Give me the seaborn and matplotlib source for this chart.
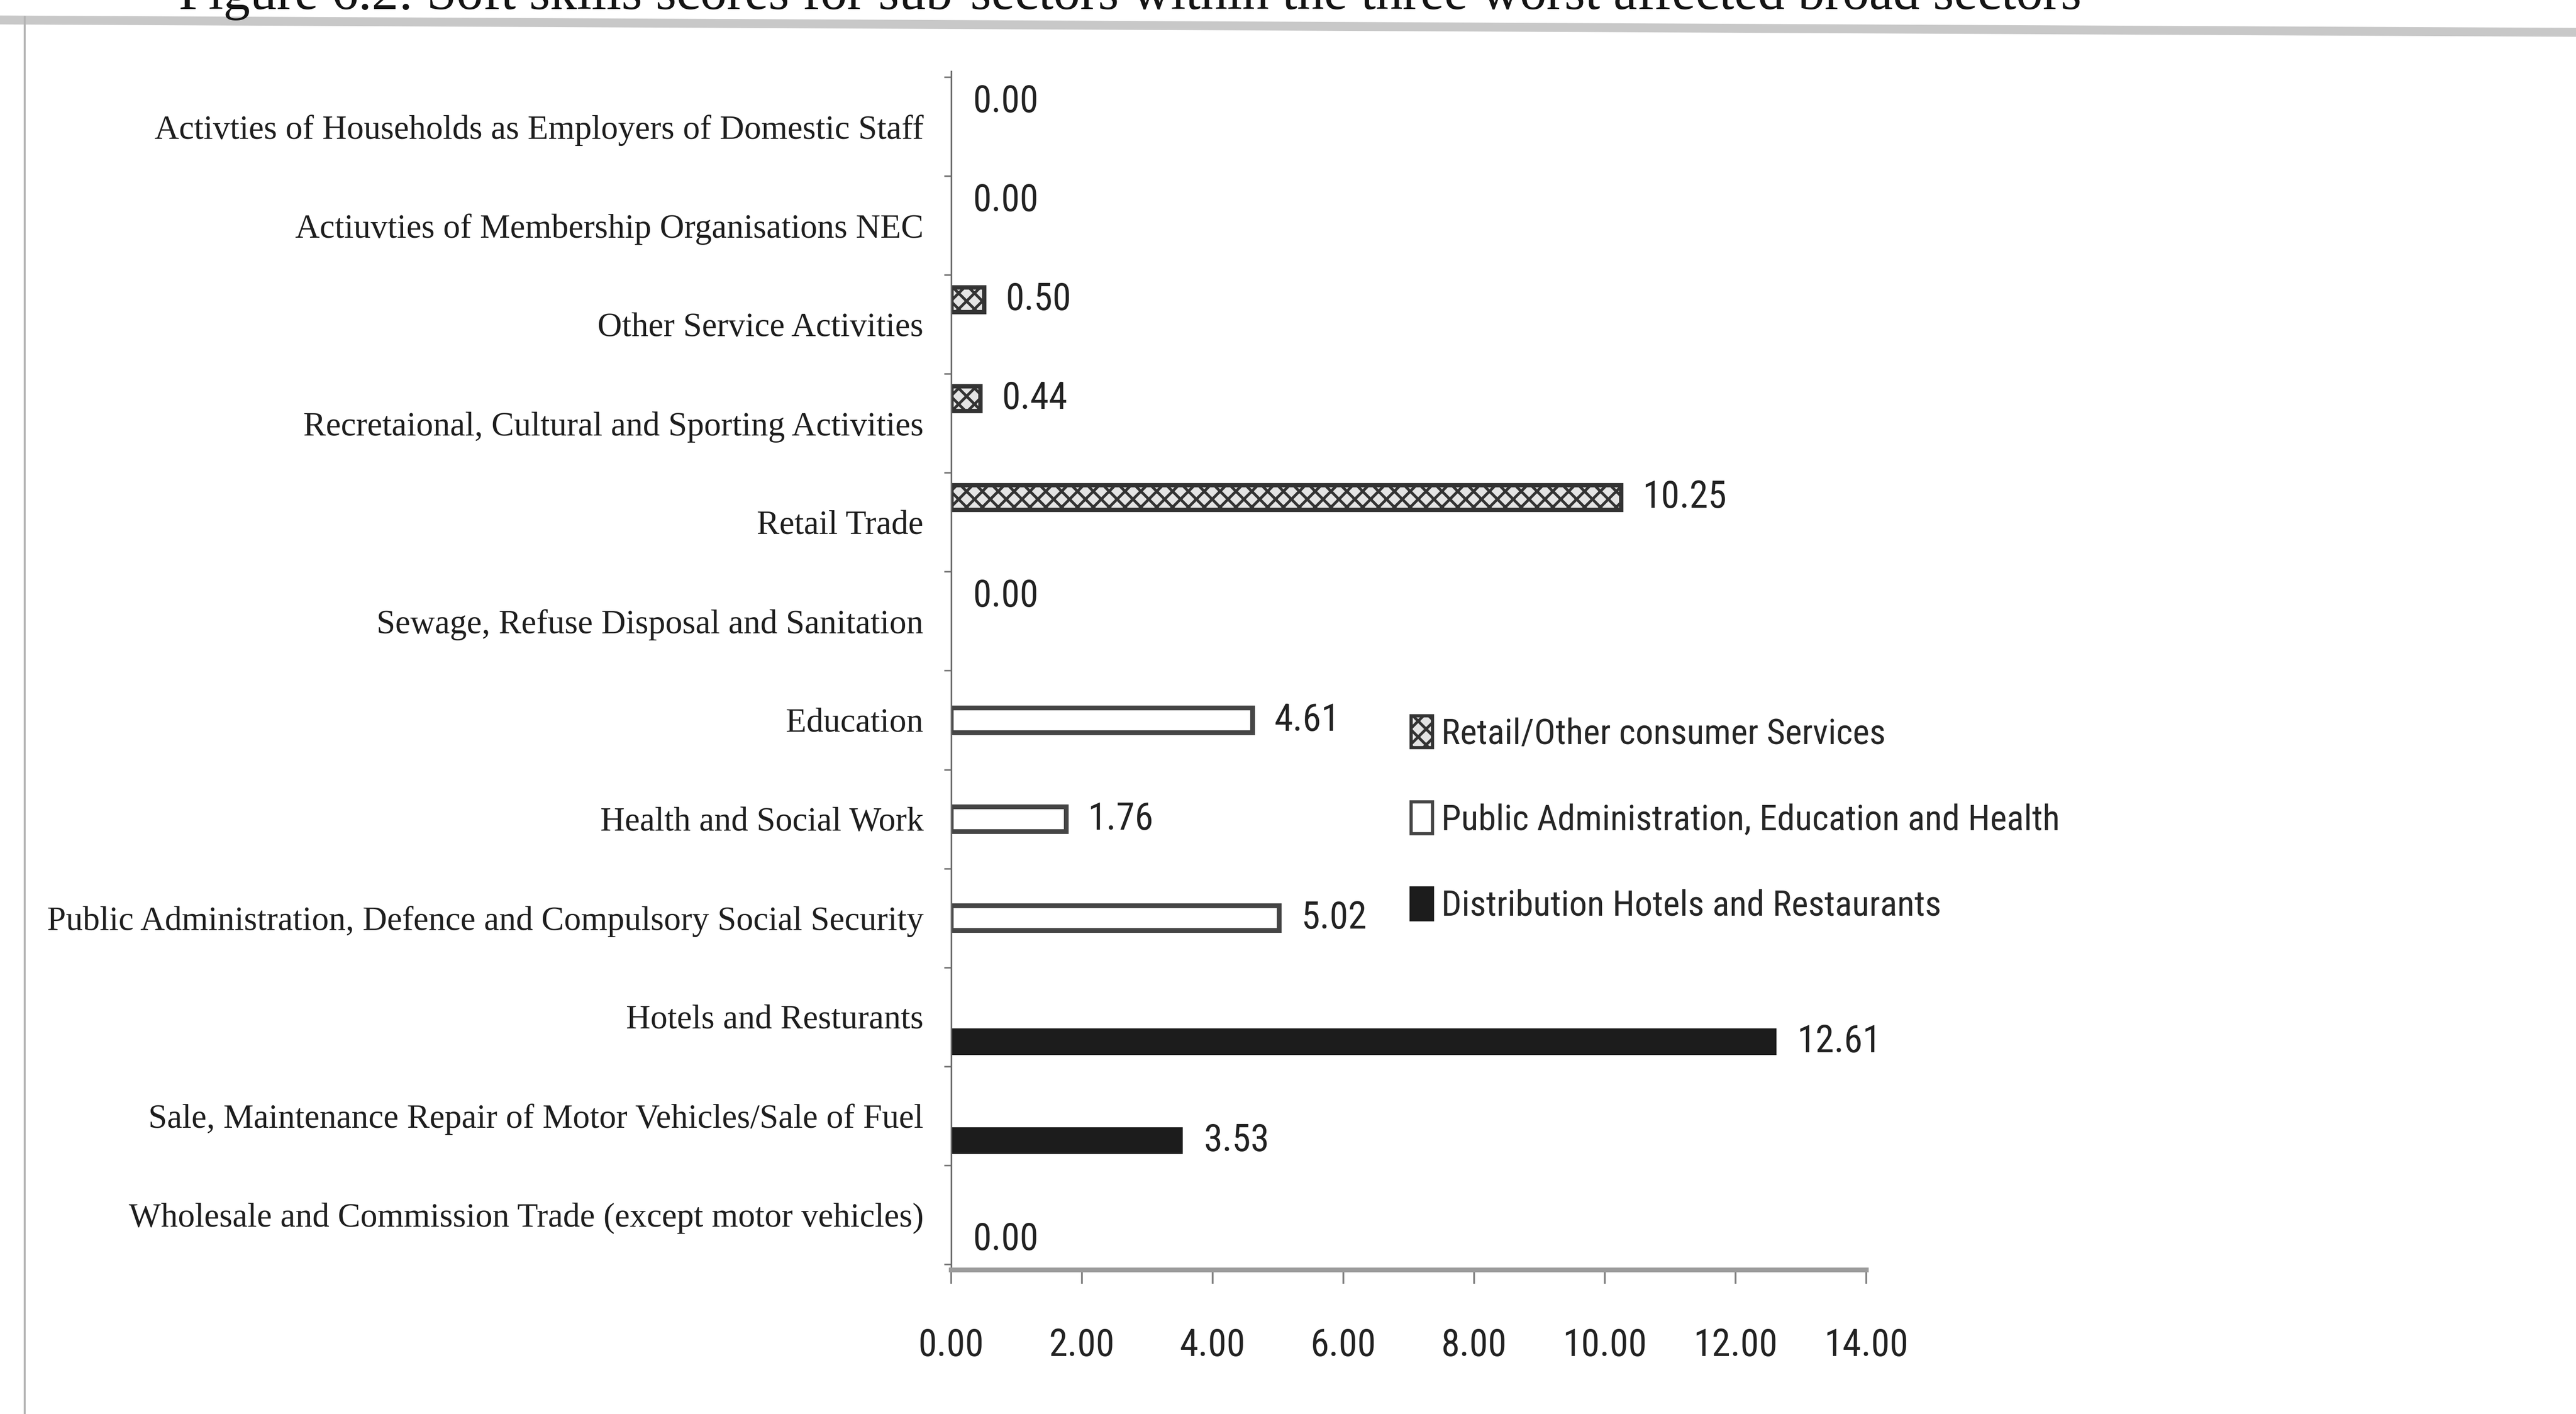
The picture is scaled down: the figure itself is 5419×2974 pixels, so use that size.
import matplotlib
matplotlib.use("Agg")
import matplotlib.pyplot as plt
from matplotlib import font_manager
from matplotlib.lines import Line2D
import seaborn as sns
import pandas as pd

# ---- data -------------------------------------------------------------
categories = [
    "Activties of Households as Employers of Domestic Staff",
    "Actiuvties of Membership Organisations NEC",
    "Other Service Activities",
    "Recretaional, Cultural and Sporting Activities",
    "Retail Trade",
    "Sewage, Refuse Disposal and Sanitation",
    "Education",
    "Health and Social Work",
    "Public Administration, Defence and Compulsory Social Security",
    "Hotels and Resturants",
    "Sale, Maintenance Repair of Motor Vehicles/Sale of Fuel",
    "Wholesale and Commission Trade (except motor vehicles)",
]
sectors = [
    "Retail/Other consumer Services",
    "Retail/Other consumer Services",
    "Retail/Other consumer Services",
    "Retail/Other consumer Services",
    "Retail/Other consumer Services",
    "Retail/Other consumer Services",
    "Public Administration, Education and Health",
    "Public Administration, Education and Health",
    "Public Administration, Education and Health",
    "Distribution Hotels and Restaurants",
    "Distribution Hotels and Restaurants",
    "Distribution Hotels and Restaurants",
]
values = [0.00, 0.00, 0.50, 0.44, 10.25, 0.00, 4.61, 1.76, 5.02, 12.61, 3.53, 0.00]
series_order = [
    "Retail/Other consumer Services",
    "Public Administration, Education and Health",
    "Distribution Hotels and Restaurants",
]
x_ticks = [0, 2, 4, 6, 8, 10, 12, 14]

title_text = ("Figure 6.2: Soft skills scores for sub-sectors within the three "
              "worst affected broad sectors")


def pick(*names):
    avail = {f.name for f in font_manager.fontManager.ttflist}
    for n in names:
        if n in avail:
            return n
    return "DejaVu Sans"


sans = pick("Liberation Sans Narrow", "Roboto Condensed", "Liberation Sans")
serif = pick("Liberation Serif", "DejaVu Serif")

sns.set_theme(style="white")
plt.rcParams["font.family"] = [sans, "DejaVu Sans"]
plt.rcParams["hatch.linewidth"] = 1.4
plt.rcParams["hatch.color"] = "#7a7a7a"

DPI = 300
W, H = 5419, 2974
fig = plt.figure(figsize=(W / DPI, H / DPI), dpi=DPI, facecolor="white")


def fx(px):
    return px / W


def fy(py):
    return 1 - py / H


# page furniture: caption at the top edge, frame edges
fig.text(fx(376), fy(19), title_text, family=serif, fontsize=27,
         color="#151515", va="baseline", ha="left", zorder=3)
fig.add_artist(Line2D([0, 1], [fy(42), fy(68)], transform=fig.transFigure,
                      color="#c8c8c8", lw=4.5, zorder=1))
fig.add_artist(Line2D([fx(52), fx(52)], [fy(35), 0], transform=fig.transFigure,
                      color="#b4b4b4", lw=1.0, zorder=1))

# ---- chart ------------------------------------------------------------
ax_left, ax_right = 2001, 3926
ax_top, ax_bot = 150, 2671
ax = fig.add_axes([fx(ax_left), fy(ax_bot), (ax_right - ax_left) / W,
                   (ax_bot - ax_top) / H])
ax.set_facecolor("none")
ax.set_zorder(2)

df = pd.DataFrame({"category": categories, "sector": sectors, "value": values})
sns.barplot(data=df, x="value", y="category", hue="sector",
            hue_order=series_order, order=categories, orient="h",
            dodge=True, width=0.75, palette=["#e4e4e4", "white", "#1c1c1c"],
            saturation=1, ax=ax, legend=False)

styles = [
    dict(edgecolor="#333333", hatch="xxx", linewidth=2.2),
    dict(edgecolor="#454545", linewidth=2.4),
    dict(edgecolor="#1c1c1c", linewidth=1.0),
]
for cont, st in zip(ax.containers, styles):
    for p in cont.patches:
        p.set(**st)
        if p.get_width() == 0:
            p.set_linewidth(0)
    ax.bar_label(cont, fmt="%.2f", padding=11, fontsize=19, color="#222222")

ax.set_xlim(0, 14)
ax.set_ylim(11.56, -0.56)
ax.set_xticks(x_ticks)
ax.set_xticklabels([f"{v:.2f}" for v in x_ticks])
ax.set_yticks([i - 0.5 for i in range(len(categories) + 1)], minor=True)
ax.set_xlabel("")
ax.set_ylabel("")
for lab in ax.get_yticklabels():
    lab.set_family(serif)
    lab.set_fontsize(17.1)
    lab.set_color("#1e1e1e")
ax.tick_params(axis="y", which="major", length=0, pad=14)
ax.tick_params(axis="y", which="minor", length=3.5, width=0.8, color="#777777",
               direction="out", left=True)
ax.tick_params(axis="x", length=7, width=0.9, color="#808080", direction="out",
               pad=22, labelsize=19, labelcolor="#222222", bottom=True)

for side in ("top", "right"):
    ax.spines[side].set_visible(False)
ax.spines["left"].set_color("#6a6a6a")
ax.spines["left"].set_linewidth(0.8)
ax.spines["bottom"].set_color("#9c9c9c")
ax.spines["bottom"].set_linewidth(2.4)

leg = ax.legend(ax.containers, series_order, loc="upper left",
                bbox_to_anchor=(fx(2968), fy(1505)),
                bbox_transform=fig.transFigure, frameon=False, fontsize=18,
                handlelength=0.6, handleheight=1.0, handletextpad=0.25,
                labelspacing=1.42, borderpad=0, borderaxespad=0)
for h in leg.legend_handles:
    h.set_linewidth(1.6)

fig.savefig("out.png", dpi=DPI, facecolor="white")
